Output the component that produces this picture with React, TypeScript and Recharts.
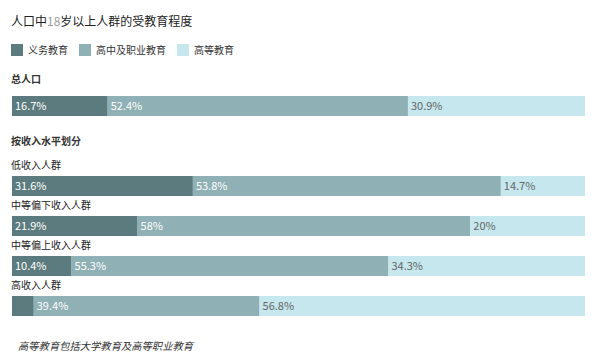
import { Bar, BarChart, LabelList, XAxis, YAxis } from "recharts";

const rowNames = ["总人口", "按收入水平划分", "低收入人群", "中等偏下收入人群", "中等偏上收入人群", "高收入人群"];
const rowKinds = ["total", "section", "group", "group", "group", "group"];
const compulsory = [16.7, 0, 31.6, 21.9, 10.4, 3.8];
const secondary = [52.4, 0, 53.8, 58, 55.3, 39.4];
const higher = [30.9, 0, 14.7, 20, 34.3, 56.8];

const seriesKeys = ["compulsory", "secondary", "higher"];
const seriesNames = ["义务教育", "高中及职业教育", "高等教育"];
const seriesColors = ["#5c7b7e", "#8fb0b4", "#c5e7ed"];
const labelColors = ["#ffffff", "#ffffff", "#666666"];

const data = rowNames.map((name, i) => ({
  name,
  kind: rowKinds[i],
  compulsory: compulsory[i],
  secondary: secondary[i],
  higher: higher[i],
}));

const FONT = '"Noto Sans CJK SC", "Noto Sans", sans-serif';
const LEFT = 11;

// row label drawn above each bar
function renderRowTick(props: any) {
  const { y, payload } = props;
  const kind = rowKinds[rowNames.indexOf(payload.value)];
  const dy = kind === "total" ? -27 : kind === "section" ? -5 : -21;
  const bold = kind !== "group";
  return (
    <text
      x={LEFT}
      y={y + dy}
      dy={4}
      fontSize={10}
      fontWeight={bold ? 700 : 400}
      fill={bold ? "#333" : "#222"}
      fontFamily={FONT}
    >
      {payload.value}
    </text>
  );
}

function LegendBox() {
  return (
    <div style={{ display: "flex", alignItems: "center", fontSize: 10, color: "#333" }}>
      {seriesNames.map((name, i) => (
        <div key={name} style={{ display: "flex", alignItems: "center", marginRight: 11 }}>
          <span style={{ width: 12, height: 12, background: seriesColors[i], display: "inline-block", marginRight: 5 }} />
          {name}
        </div>
      ))}
    </div>
  );
}

export default function App() {
  return (
    <div style={{ margin: -8, width: 614, height: 361, position: "relative", background: "#fff", fontFamily: FONT }}>
      <div style={{ position: "absolute", left: LEFT, top: 12, fontSize: 12, color: "#222" }}>
        人口中<span style={{ color: "#999" }}>18</span>岁以上人群的受教育程度
      </div>
      <div style={{ position: "absolute", left: LEFT, top: 42 }}>
        <LegendBox />
      </div>
      <div style={{ position: "absolute", left: 18, top: 338, fontSize: 10.3, fontStyle: "italic", color: "#333" }}>
        高等教育包括大学教育及高等职业教育
      </div>
      <BarChart
        width={614}
        height={361}
        data={data}
        layout="vertical"
        stackOffset="expand"
        barCategoryGap={0}
        margin={{ top: 86, right: 29, bottom: 35, left: LEFT }}
      >
        <XAxis type="number" domain={[0, 1]} hide />
        <YAxis
          type="category"
          dataKey="name"
          width={1}
          axisLine={false}
          tickLine={false}
          tick={renderRowTick}
          interval={0}
        />
        {seriesKeys.map((key, i) => (
          <Bar
            key={key}
            dataKey={key}
            name={seriesNames[i]}
            stackId="a"
            fill={seriesColors[i]}
            barSize={20}
            isAnimationActive={false}
          >
            <LabelList
              dataKey={key}
              position="insideLeft"
              offset={3}
              fill={labelColors[i]}
              fontSize={11}
              fontFamily={FONT}
              formatter={(v: any) => (v && Number(v) >= 5 ? `${v}%` : "")}
            />
          </Bar>
        ))}
      </BarChart>
    </div>
  );
}
